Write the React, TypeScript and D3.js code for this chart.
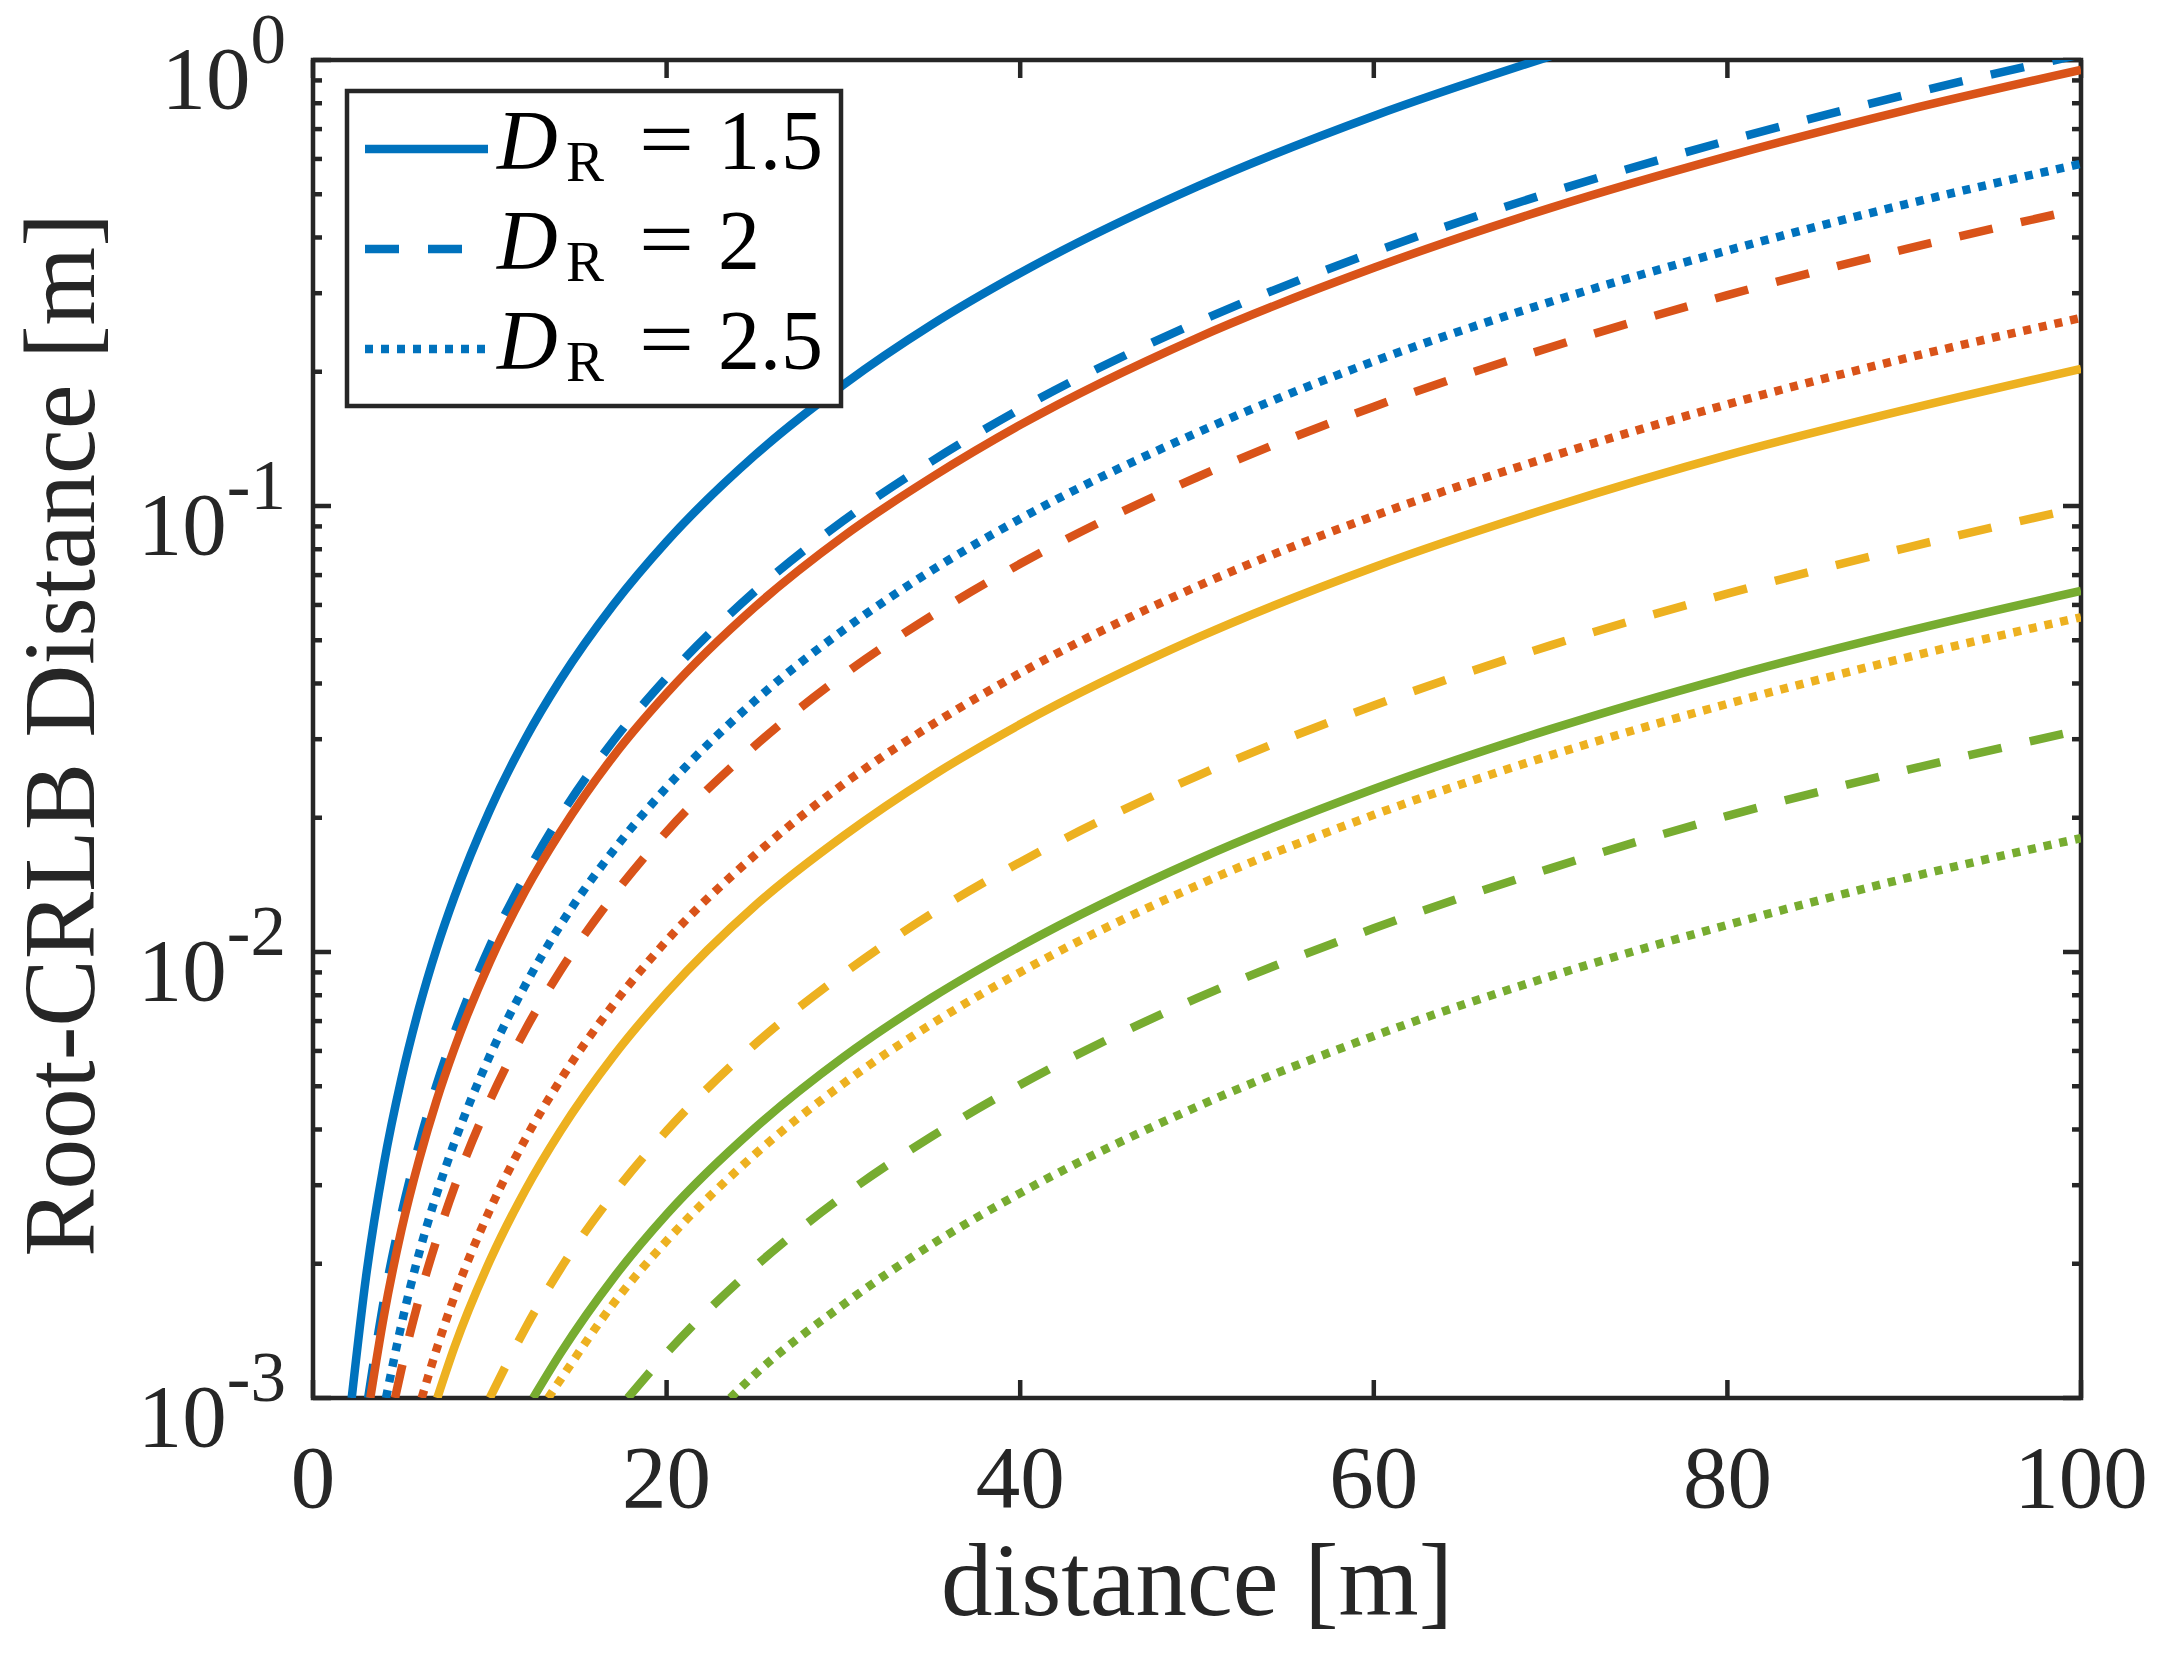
import React from "react";
import * as d3 from "d3";

// ---------- data ----------
const DISTANCE_GRID = [3, 4, 5, 6, 7, 8, 10, 12, 14, 17, 20, 25, 30, 35, 40, 50, 60, 70, 80, 90, 100];

// Root-CRLB distance [m] at each grid distance (null = outside visible range)
const BLUE_DR15 = [1.87e-3, 3.33e-3, 5.2e-3, 7.49e-3, 0.0102, 0.0133, 0.0208, 0.03, 0.0408, 0.0601, 0.0832, 0.13, 0.187, 0.255, 0.333, 0.52, 0.749, 1.02, null, null, null];
const BLUE_DR20 = [null, 1.65e-3, 2.58e-3, 3.71e-3, 5.05e-3, 6.59e-3, 0.0103, 0.0148, 0.0202, 0.0298, 0.0412, 0.0644, 0.0927, 0.126, 0.165, 0.258, 0.371, 0.505, 0.659, 0.834, 1.03];
const BLUE_DR25 = [null, null, 1.46e-3, 2.11e-3, 2.87e-3, 3.74e-3, 5.85e-3, 8.42e-3, 0.0115, 0.0169, 0.0234, 0.0366, 0.0527, 0.0717, 0.0936, 0.146, 0.211, 0.287, 0.374, 0.474, 0.585];
const ORANGE_DR15 = [null, 1.52e-3, 2.38e-3, 3.42e-3, 4.66e-3, 6.08e-3, 9.5e-3, 0.0137, 0.0186, 0.0275, 0.038, 0.0594, 0.0855, 0.116, 0.152, 0.238, 0.342, 0.466, 0.608, 0.77, 0.95];
const ORANGE_DR20 = [null, null, 1.16e-3, 1.67e-3, 2.27e-3, 2.97e-3, 4.64e-3, 6.68e-3, 9.09e-3, 0.0134, 0.0186, 0.029, 0.0418, 0.0568, 0.0742, 0.116, 0.167, 0.227, 0.297, 0.376, 0.464];
const ORANGE_DR25 = [null, null, null, null, 1.29e-3, 1.69e-3, 2.64e-3, 3.8e-3, 5.17e-3, 7.63e-3, 0.0106, 0.0165, 0.0238, 0.0323, 0.0422, 0.066, 0.095, 0.129, 0.169, 0.214, 0.264];
const YELLOW_DR15 = [null, null, null, null, null, 1.3e-3, 2.03e-3, 2.92e-3, 3.97e-3, 5.85e-3, 8.1e-3, 0.0127, 0.0182, 0.0248, 0.0324, 0.0506, 0.0729, 0.0992, 0.13, 0.164, 0.203];
const YELLOW_DR20 = [null, null, null, null, null, null, null, 1.43e-3, 1.95e-3, 2.87e-3, 3.97e-3, 6.21e-3, 8.94e-3, 0.0122, 0.0159, 0.0248, 0.0357, 0.0487, 0.0636, 0.0804, 0.0993];
const YELLOW_DR25 = [null, null, null, null, null, null, null, null, 1.1e-3, 1.63e-3, 2.25e-3, 3.52e-3, 5.07e-3, 6.9e-3, 9.01e-3, 0.0141, 0.0203, 0.0276, 0.036, 0.0456, 0.0563];
const GREEN_DR15 = [null, null, null, null, null, null, null, null, 1.26e-3, 1.86e-3, 2.58e-3, 4.03e-3, 5.81e-3, 7.9e-3, 0.0103, 0.0161, 0.0232, 0.0316, 0.0413, 0.0522, 0.0645];
const GREEN_DR20 = [null, null, null, null, null, null, null, null, null, null, 1.26e-3, 1.97e-3, 2.84e-3, 3.86e-3, 5.04e-3, 7.88e-3, 0.0113, 0.0154, 0.0202, 0.0255, 0.0315];
const GREEN_DR25 = [null, null, null, null, null, null, null, null, null, null, null, 1.13e-3, 1.62e-3, 2.21e-3, 2.88e-3, 4.5e-3, 6.48e-3, 8.82e-3, 0.0115, 0.0146, 0.018];

// distance where each curve enters the bottom of the plot (value 1e-3)
const ENTRY_DISTANCE = [2.19, 3.12, 4.13, 3.24, 4.64, 6.15, 7.03, 10.0, 13.3, 12.45, 17.8, 23.6];

const SERIES_VALUES = [
  BLUE_DR15, BLUE_DR20, BLUE_DR25,
  ORANGE_DR15, ORANGE_DR20, ORANGE_DR25,
  YELLOW_DR15, YELLOW_DR20, YELLOW_DR25,
  GREEN_DR15, GREEN_DR20, GREEN_DR25,
];

const COLORS = ["#0072BD", "#D95319", "#EDB120", "#77AC30"];
const DR_LABELS = ["1.5", "2", "2.5"];
const X_TICKS = [0, 20, 40, 60, 80, 100];
const Y_EXPONENTS = [-3, -2, -1, 0];

// ---------- layout ----------
const W = 2169;
const H = 1658;
const L = 313, R = 2081, T = 60, B = 1398;
const AXC = "#262626";
const LW = 8.5;
const DASH = [null, "34,29", "8,8"];

const x = d3.scaleLinear().domain([0, 100]).range([L, R]);
const y = d3.scaleLog().domain([1e-3, 1]).range([B, T]);

const lineGen = d3
  .line<[number, number]>()
  .x((d) => x(d[0]))
  .y((d) => y(d[1]))
  .curve(d3.curveMonotoneX);

function seriesPoints(i: number): [number, number][] {
  const pts: [number, number][] = [[ENTRY_DISTANCE[i], 1e-3]];
  SERIES_VALUES[i].forEach((v, j) => {
    if (v !== null) pts.push([DISTANCE_GRID[j], v as number]);
  });
  return pts;
}

export default function App() {
  const minorTicks: number[] = [];
  for (let e = -3; e < 0; e++) {
    for (let m = 2; m <= 9; m++) minorTicks.push(m * Math.pow(10, e));
  }
  const font = "'Liberation Serif', 'Times New Roman', Times, serif";

  return (
    <svg
      width={W}
      height={H}
      viewBox={`0 0 ${W} ${H}`}
      style={{ position: "absolute", left: 0, top: 0, display: "block", background: "#fff" }}
    >
      <defs>
        <clipPath id="plotclip">
          <rect x={L} y={T} width={R - L} height={B - T} />
        </clipPath>
      </defs>
      <rect x={0} y={0} width={W} height={H} fill="#fff" />

      {/* ticks */}
      <g stroke={AXC} strokeWidth={4.5}>
        {X_TICKS.map((t) => (
          <g key={"xt" + t}>
            <line x1={x(t)} x2={x(t)} y1={B} y2={B - 18} />
            <line x1={x(t)} x2={x(t)} y1={T} y2={T + 18} />
          </g>
        ))}
        {Y_EXPONENTS.map((e) => (
          <g key={"yt" + e}>
            <line x1={L} x2={L + 18} y1={y(Math.pow(10, e))} y2={y(Math.pow(10, e))} />
            <line x1={R} x2={R - 18} y1={y(Math.pow(10, e))} y2={y(Math.pow(10, e))} />
          </g>
        ))}
        {minorTicks.map((v, i) => (
          <g key={"ym" + i}>
            <line x1={L} x2={L + 9} y1={y(v)} y2={y(v)} />
            <line x1={R} x2={R - 9} y1={y(v)} y2={y(v)} />
          </g>
        ))}
      </g>

      {/* axes box */}
      <rect x={L} y={T} width={R - L} height={B - T} fill="none" stroke={AXC} strokeWidth={4.5} />

      {/* curves */}
      <g clipPath="url(#plotclip)" fill="none">
        {SERIES_VALUES.map((_, i) => {
          const c = Math.floor(i / 3);
          const s = i % 3;
          return (
            <path
              key={"s" + i}
              d={lineGen(seriesPoints(i)) || ""}
              stroke={COLORS[c]}
              strokeWidth={LW}
              strokeDasharray={DASH[s] || undefined}
              strokeLinejoin="round"
            />
          );
        })}
      </g>

      {/* tick labels */}
      <g fill={AXC} fontFamily={font}>
        {X_TICKS.map((t) => (
          <text key={"xl" + t} x={x(t)} y={1507} fontSize={89} textAnchor="middle">
            {t}
          </text>
        ))}
        {Y_EXPONENTS.map((e) => (
          <text key={"yl" + e} x={286} y={y(Math.pow(10, e)) + 48} fontSize={89} textAnchor="end">
            <tspan>10</tspan>
            <tspan fontSize={71} dy={-45}>
              {e === 0 ? "0" : "-" + Math.abs(e)}
            </tspan>
          </text>
        ))}
        <text x={(L + R) / 2} y={1615} fontSize={103} textAnchor="middle">
          distance [m]
        </text>
        <text
          transform={`translate(94, ${735}) rotate(-90)`}
          fontSize={101}
          textAnchor="middle"
        >
          Root-CRLB Distance [m]
        </text>
      </g>

      {/* legend */}
      <g>
        <rect x={347} y={91} width={494} height={315} fill="#fff" stroke={AXC} strokeWidth={4.5} />
        {DR_LABELS.map((lab, k) => {
          const cy = 149 + k * 100;
          const base = cy + 20;
          return (
            <g key={"lg" + k}>
              <line
                x1={365}
                x2={488}
                y1={cy}
                y2={cy}
                stroke={COLORS[0]}
                strokeWidth={LW}
                strokeDasharray={DASH[k] || undefined}
              />
              <text fontFamily={font} fill="#000">
                <tspan x={497} y={base} fontSize={84} fontStyle="italic">
                  D
                </tspan>
                <tspan x={566} y={base + 12} fontSize={57}>
                  R
                </tspan>
                <tspan
                  x={639}
                  y={base - 1}
                  fontSize={84}
                  textLength={55}
                  lengthAdjust="spacingAndGlyphs"
                >
                  =
                </tspan>
                <tspan x={718} y={base} fontSize={84}>
                  {lab}
                </tspan>
              </text>
            </g>
          );
        })}
      </g>
    </svg>
  );
}
